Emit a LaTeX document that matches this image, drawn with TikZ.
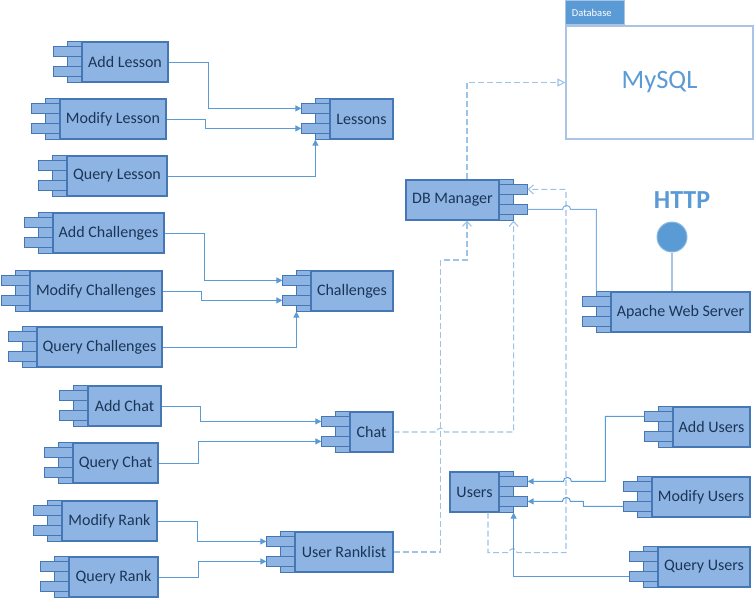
\documentclass[tikz,border=0pt]{standalone}
\usepackage{fontspec}
\setmainfont{Carlito}
\usepackage{tikz}
\usetikzlibrary{arrows.meta}

\definecolor{compfill}{HTML}{8EB4E3}
\definecolor{compline}{HTML}{4677B5}
\definecolor{comptext}{HTML}{1B3556}
\definecolor{linkblue}{HTML}{5B9BD5}
\definecolor{deplight}{HTML}{9DC3E6}
\definecolor{pkgline}{HTML}{A9C4E4}

\newcommand{\compL}[5]{%
  \node[comp, minimum width=#4] (#1) at (#2,#3) {#5};
  \draw[compbox] (#1.north west) rectangle ([xshift=-14pt]#1.south west);
  \draw[compbox] ([yshift=-5pt]#1.north west) rectangle ([xshift=-28pt,yshift=-15pt]#1.north west);
  \draw[compbox] ([yshift=-25pt]#1.north west) rectangle ([xshift=-28pt,yshift=-35pt]#1.north west);
  \coordinate (#1-t1) at ([xshift=-28pt,yshift=-10pt]#1.north west);
  \coordinate (#1-t2) at ([xshift=-28pt,yshift=-30pt]#1.north west);
  \coordinate (#1-s) at ([xshift=-14pt]#1.south west);
  \coordinate (#1-n) at ([xshift=-14pt]#1.north west);
}
\newcommand{\compR}[5]{%
  \node[comp, minimum width=#4] (#1) at (#2,#3) {#5};
  \draw[compbox] (#1.north east) rectangle ([xshift=14pt]#1.south east);
  \draw[compbox] ([yshift=-5pt]#1.north east) rectangle ([xshift=28pt,yshift=-15pt]#1.north east);
  \draw[compbox] ([yshift=-25pt]#1.north east) rectangle ([xshift=28pt,yshift=-35pt]#1.north east);
  \coordinate (#1-t1) at ([xshift=28pt,yshift=-10pt]#1.north east);
  \coordinate (#1-t2) at ([xshift=28pt,yshift=-30pt]#1.north east);
  \coordinate (#1-s) at ([xshift=14pt]#1.south east);
  \coordinate (#1-n) at ([xshift=14pt]#1.north east);
}

\begin{document}
\begin{tikzpicture}[x=1pt, y=-1pt,
  comp/.style={draw=compline, fill=compfill, line width=1.2pt, minimum height=40pt,
    inner sep=0pt, text=comptext, font=\fontsize{16}{18}\selectfont},
  compbox/.style={draw=compline, fill=compfill, line width=1.2pt},
  link/.style={draw=linkblue, line width=1pt, -{Triangle[length=6pt,width=6pt]}},
  plainlink/.style={draw=linkblue!80, line width=1pt},
  dep/.style={draw=deplight, line width=1.1pt, dash pattern=on 6pt off 3pt,
    -{Straight Barb[length=5pt,width=9pt]}},
  pkg/.style={draw=pkgline, fill=white, line width=1.2pt, inner sep=0pt,
    text=linkblue, font=\fontsize{26.5}{30}\selectfont},
  pkgtab/.style={draw=pkgline, fill=linkblue, line width=1pt, inner xsep=6pt, inner ysep=0pt,
    text width=47pt, align=left, text=white, font=\fontsize{10.5}{12}\selectfont}]
\useasboundingbox (0,0) rectangle (756,600);

\node[pkg, minimum width=187pt, minimum height=113pt] (mysql) at (659.5,82.5) {MySQL};
\node[pkgtab, anchor=south west, minimum height=24pt] (dbtab) at (mysql.north west) {Database};

\compL{addLesson}{125}{62}{86pt}{Add Lesson}
\compL{modLesson}{113}{119}{106pt}{Modify Lesson}
\compL{qLesson}{117}{176}{100pt}{Query Lesson}
\compL{lessons}{361.5}{119}{63pt}{Lessons}
\compL{addChal}{108.5}{233}{111pt}{Add Challenges}
\compL{modChal}{96}{291}{132pt}{Modify Challenges}
\compL{qChal}{99.5}{347}{125pt}{Query Challenges}
\compL{challenges}{352}{291}{82pt}{Challenges}
\compL{addChat}{124.5}{406}{73pt}{Add Chat}
\compL{qChat}{115.5}{463}{85pt}{Query Chat}
\compL{modRank}{109.5}{521}{95pt}{Modify Rank}
\compL{qRank}{113.5}{577}{89pt}{Query Rank}
\compL{chat}{371.5}{432}{43pt}{Chat}
\compL{ranklist}{344}{552}{98pt}{User Ranklist}
\compL{apache}{680.5}{312}{139pt}{Apache Web Server}
\compL{addUsers}{711.5}{427}{77pt}{Add Users}
\compL{modUsers}{701}{497}{98pt}{Modify Users}
\compL{qUsers}{704}{567}{92pt}{Query Users}
\compR{dbman}{452.5}{200}{93pt}{DB Manager}
\compR{users}{474.5}{492}{49pt}{Users}

\node[text=linkblue, font=\bfseries\fontsize{26}{30}\selectfont] (http) at (682,200) {HTTP};
\node[circle, draw=linkblue!70, fill=linkblue, line width=1pt, minimum size=30pt, inner sep=0pt] (port) at (672,237) {};
\draw[draw=pkgline, line width=1.5pt] (port) -- (port |- apache.north);

\draw[link] (addLesson.east) -- ++(40,0) |- (lessons-t1);
\draw[link] (modLesson.east) -- ++(39,0) |- (lessons-t2);
\draw[link] (qLesson.east) -| (lessons-s);
\draw[link] (addChal.east) -- ++(40,0) |- (challenges-t1);
\draw[link] (modChal.east) -- ++(39,0) |- (challenges-t2);
\draw[link] (qChal.east) -| (challenges-s);
\draw[link] (addChat.east) -- ++(39,0) |- (chat-t1);
\draw[link] (qChat.east) -- ++(40,0) |- (chat-t2);
\draw[link] (modRank.east) -- ++(40,0) |- (ranklist-t1);
\draw[link] (qRank.east) -- ++(40,0) |- (ranklist-t2);

\draw[dep, -{Triangle[open,length=8pt,width=8pt]}] ([xshift=14.5pt]dbman.north) |- (mysql.west);
\draw[dep] ([xshift=13.5pt]users.south) -- ++(0,40) -- ++(21,0)
  arc[start angle=180, end angle=0, radius=4pt] -- ++(49,0) |- (dbman-t1);
\draw[dep] (chat.east) -- ++(43,0) arc[start angle=180, end angle=0, radius=4pt] -| (dbman-s);
\draw[dep] (ranklist.east) -| ++(47,-292) -| ([xshift=14.5pt]dbman.south);

\draw[plainlink] (dbman-t2) -- ++(35,0) arc[start angle=180, end angle=0, radius=4pt] -| (apache-n);
\draw[link] (addUsers-t1) -| ++(-39,65) -- ++(-34,0)
  arc[start angle=0, end angle=180, radius=4pt] -- (users-t1);
\draw[link] (modUsers-t2) -| ++(-40,-5) -- ++(-13,0)
  arc[start angle=0, end angle=180, radius=4pt] -- (users-t2);
\draw[link] (qUsers-t2) -| (users-s);
\end{tikzpicture}
\end{document}
